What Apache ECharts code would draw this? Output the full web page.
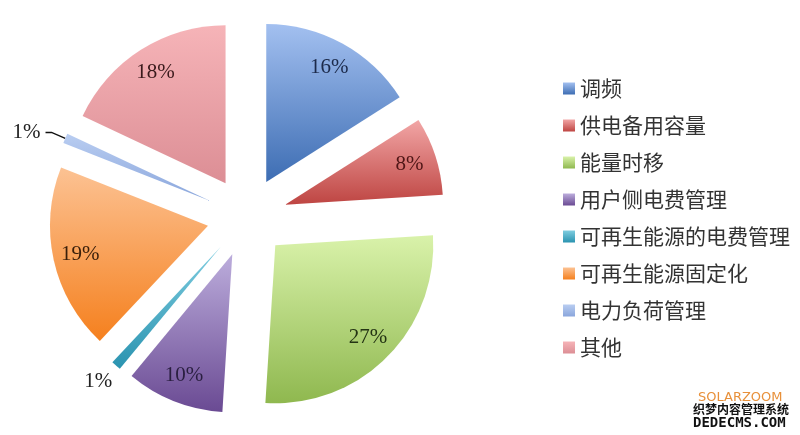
<!DOCTYPE html>
<html><head><meta charset="utf-8">
<script src="https://cdn.jsdelivr.net/npm/echarts@6/dist/echarts.min.js"></script>
<style>html,body{margin:0;padding:0;background:#fff}#c{width:800px;height:435px}</style>
</head><body><div id="c"></div>
<script>
const categories = ['调频','供电备用容量','能量时移','用户侧电费管理','可再生能源的电费管理','可再生能源固定化','电力负荷管理','其他'];
const values = [16, 8, 27, 10, 1, 19, 1, 18];
const topColors = ['#a3c0f0','#f2a6a6','#d9f2aa','#bcaddc','#7fcde0','#fcc293','#b9cdf1','#f6b4b8'];
const bottomColors = ['#3d6db3','#be4542','#8fb84f','#6a4a93','#2a93b0','#f5801e','#8aa6dc','#dc8e95'];
const labelColors = ['#1c2a4a','#4f1616','#243414','#2a1f40','#222222','#3a1f0a','#222222','#3a1a1c'];
const watermarkTexts = ['SOLARZOOM', '织梦内容管理系统', 'DEDECMS.COM'];

const R = 158, OFF = 40, CENTER = [247, 217];
const FS = 21;
const grad = i => new echarts.graphic.LinearGradient(0, 0, 0, 1, [
  {offset: 0, color: topColors[i]}, {offset: 1, color: bottomColors[i]}]);
const pct = p => p.value + '%';

const mainData = categories.map((n, i) => {
  const small = values[i] < 5;
  const left = i === 6;
  return {
    name: n, value: values[i], selected: true,
    itemStyle: {color: grad(i)},
    label: small ? {show: true, position: 'outside', color: '#222',
      fontFamily: 'Liberation Serif', fontSize: FS, formatter: pct} : {show: false},
    labelLine: small ? {show: left, length: left ? 15 : 21, length2: left ? 6 : -15,
      lineStyle: {color: '#111', width: 1.5}} : {show: false}
  };
});
const labelData = categories.map((n, i) => ({
  name: n, value: values[i], selected: true,
  label: {show: values[i] >= 5, color: labelColors[i]}
}));

const chart = echarts.init(document.getElementById('c'), null, {renderer: 'canvas'});
chart.setOption({
  backgroundColor: '#fff',
  animation: false,
  legend: {
    orient: 'vertical', left: 558, top: 73,
    itemWidth: 12, itemHeight: 12, itemGap: 16,
    icon: 'rect',
    selectedMode: false,
    textStyle: {fontSize: 21, lineHeight: 20, color: '#333', fontFamily: 'Noto Sans CJK SC'},
    data: categories
  },
  graphic: [
    {type: 'text', left: 698, top: 391, style: {text: watermarkTexts[0], fill: '#e8903a', font: '13px "DejaVu Sans"'}},
    {type: 'text', left: 692, top: 402, style: {text: watermarkTexts[1], fill: '#111', stroke: '#fff', lineWidth: 2, font: 'bold 12px "Noto Sans CJK SC"'}},
    {type: 'text', left: 692, top: 415, style: {text: watermarkTexts[2], fill: '#111', stroke: '#fff', lineWidth: 2, font: 'bold 14px "DejaVu Sans Mono"'}}
  ],
  series: [{
    type: 'pie', center: CENTER, radius: [0, R],
    startAngle: 90, clockwise: true,
    selectedMode: 'multiple', selectedOffset: OFF,
    avoidLabelOverlap: false,
    emphasis: {disabled: true},
    data: mainData
  }, {
    type: 'pie', center: CENTER, radius: [R * 0.62, R],
    startAngle: 90, clockwise: true,
    selectedMode: 'multiple', selectedOffset: OFF,
    silent: true, avoidLabelOverlap: false,
    emphasis: {disabled: true},
    itemStyle: {color: 'rgba(0,0,0,0)'},
    label: {position: 'inside', fontFamily: 'Liberation Serif', fontSize: FS,
      formatter: pct},
    labelLine: {show: false},
    data: labelData
  }]
});
</script></body></html>
